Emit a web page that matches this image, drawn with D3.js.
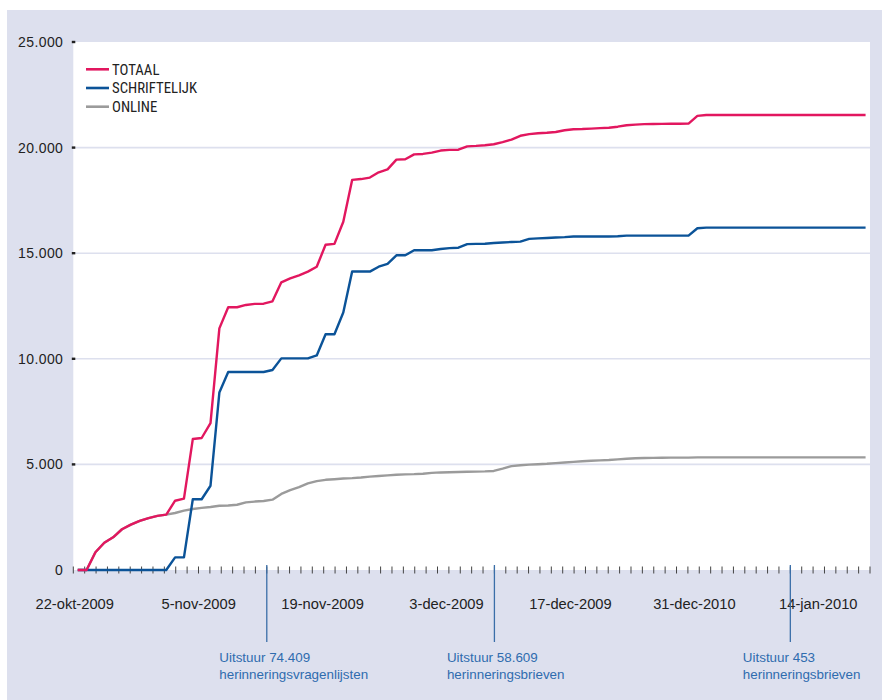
<!DOCTYPE html>
<html>
<head>
<meta charset="utf-8">
<script src="https://cdn.jsdelivr.net/npm/d3@7"></script>
<style>
  body { margin: 0; background: #fff; }
</style>
</head>
<body>
<svg width="882" height="700"></svg>
<script>
// cumulatief aantal responses per dag, vanaf 22-okt-2009
const startDate = "2009-10-22";

const totaal = [
  0, 0, 840, 1290, 1550, 1930, 2150, 2330, 2460, 2560,
  2620, 3280, 3380, 6200, 6250, 6950, 11440, 12440, 12440, 12550,
  12600, 12610, 12720, 13620, 13810, 13950, 14130, 14360, 15400, 15440,
  16490, 18470, 18510, 18580, 18830, 18970, 19430, 19450, 19680, 19700,
  19760, 19860, 19890, 19900, 20060, 20080, 20110, 20160, 20260, 20380,
  20560, 20640, 20680, 20700, 20740, 20820, 20870, 20880, 20900, 20920,
  20940, 20990, 21060, 21090, 21110, 21120, 21125, 21130, 21130, 21135,
  21500, 21545, 21545, 21545, 21545, 21545, 21545, 21545, 21545, 21545,
  21545, 21545, 21545, 21545, 21545, 21545, 21545, 21545, 21545, 21545
];

const schriftelijk = [
  0, 0, 0, 0, 0, 0, 0, 0, 0, 0,
  0, 600, 600, 3350, 3350, 3990, 8400, 9375, 9375, 9375,
  9375, 9375, 9470, 10020, 10020, 10020, 10020, 10160, 11160, 11160,
  12190, 14130, 14130, 14130, 14360, 14490, 14900, 14900, 15140, 15140,
  15140, 15200, 15240, 15260, 15430, 15440, 15450, 15480, 15510, 15530,
  15550, 15680, 15700, 15720, 15740, 15760, 15790, 15790, 15790, 15790,
  15790, 15800, 15830, 15830, 15830, 15830, 15830, 15830, 15830, 15830,
  16180, 16210, 16210, 16210, 16210, 16210, 16210, 16210, 16210, 16210,
  16210, 16210, 16210, 16210, 16210, 16210, 16210, 16210, 16210, 16210
];

const online = [
  0, 0, 840, 1290, 1550, 1930, 2150, 2330, 2460, 2560,
  2620, 2700, 2810, 2890, 2940, 2980, 3040, 3055, 3090, 3200,
  3240, 3270, 3330, 3600, 3780, 3920, 4100, 4210, 4270, 4300,
  4330, 4350, 4380, 4420, 4450, 4480, 4510, 4530, 4540, 4560,
  4600, 4620, 4630, 4640, 4650, 4660, 4670, 4690, 4800, 4920,
  4960, 4990, 5010, 5030, 5060, 5090, 5120, 5150, 5170, 5190,
  5210, 5240, 5270, 5290, 5300, 5310, 5315, 5320, 5320, 5320,
  5335, 5335, 5335, 5335, 5335, 5335, 5335, 5335, 5335, 5335,
  5335, 5335, 5335, 5335, 5335, 5335, 5335, 5335, 5335, 5335
];

const seriesNames = ["TOTAAL", "SCHRIFTELIJK", "ONLINE"];
const yTicks = [0, 5000, 10000, 15000, 20000, 25000];
const xLabelDates = ["2009-10-22", "2009-11-05", "2009-11-19", "2009-12-03", "2009-12-17", "2009-12-31", "2010-01-14"];
const xLabels = ["22-okt-2009", "5-nov-2009", "19-nov-2009", "3-dec-2009", "17-dec-2009", "31-dec-2010", "14-jan-2010"];
const tickCount = 70; // streepjes langs de x-as
const annotTicks = [17, 37, 63];
const annotLabels = [
  ["Uitstuur 74.409", "herinneringsvragenlijsten"],
  ["Uitstuur 58.609", "herinneringsbrieven"],
  ["Uitstuur 453", "herinneringsbrieven"]
];

const colors = {TOTAAL: "#e2175f", SCHRIFTELIJK: "#0b5398", ONLINE: "#9b9b9b"};
const sans = "'Liberation Sans', Arial, sans-serif";

const svg = d3.select("svg");
const pLeft = 73.3, pRight = 870, pTop = 42, pBottom = 570;

const start = new Date(startDate + "T00:00:00Z");
const dates = totaal.map((d, i) => d3.utcDay.offset(start, i));

// datum-as, punten midden in een dag-vak (zoals excel)
const x = d3.scaleUtc()
  .domain([d3.utcHour.offset(dates[0], -12), d3.utcHour.offset(dates[dates.length - 1], 12)])
  .range([pLeft, pRight]);
const y = d3.scaleLinear().domain([0, 25000]).range([pBottom, pTop]);
const tickX = d3.scaleLinear().domain([0, tickCount]).range([pLeft, pRight]);

const nl = d3.formatLocale({decimal: ",", thousands: ".", grouping: [3], currency: ["", ""]});
const fmt = nl.format(",d");

// achtergrond
svg.append("rect").attr("x", 7).attr("y", 10).attr("width", 875).attr("height", 690).attr("fill", "#dde0ee");
svg.append("rect").attr("x", pLeft).attr("y", pTop).attr("width", pRight - pLeft).attr("height", pBottom - pTop).attr("fill", "#fff");

// rasterlijnen
svg.selectAll(".grid")
  .data(yTicks.filter(d => d > 0 && d < 25000))
  .enter().append("line")
  .attr("x1", pLeft).attr("x2", pRight)
  .attr("y1", d => y(d)).attr("y2", d => y(d))
  .attr("stroke", "#dde0ee").attr("stroke-width", 1.6);

// y-as
const yAxis = svg.append("g").attr("transform", `translate(${pLeft},0)`)
  .call(d3.axisLeft(y).tickValues(yTicks).tickFormat(fmt).tickSize(0).tickPadding(10));
yAxis.select(".domain").remove();
yAxis.attr("font-family", null).attr("font-size", null);
yAxis.selectAll("text").attr("font-size", 14).attr("fill", "#222").attr("letter-spacing", "0.4px")
  .attr("font-family", sans);
svg.selectAll(".ytick")
  .data(yTicks.filter(d => d > 0))
  .enter().append("rect")
  .attr("x", pLeft - 1.5).attr("y", d => y(d) - 1.2)
  .attr("width", 3.5).attr("height", 2.4).attr("fill", "#222");

// x-as streepjes
svg.selectAll(".xtick")
  .data(d3.range(tickCount + 1))
  .enter().append("line")
  .attr("x1", d => tickX(d)).attr("x2", d => tickX(d))
  .attr("y1", pBottom - 3.5).attr("y2", pBottom + 3.5)
  .attr("stroke", "#444").attr("stroke-width", 1);

svg.selectAll(".xlabel")
  .data(xLabels)
  .enter().append("text")
  .attr("x", (d, i) => x(new Date(xLabelDates[i] + "T00:00:00Z")) - 3)
  .attr("y", 609)
  .attr("text-anchor", "middle")
  .attr("font-size", 14.7)
  .attr("font-family", sans)
  .attr("fill", "#222")
  .text(d => d);

// annotaties
const ann = svg.selectAll(".annot")
  .data(annotTicks)
  .enter().append("g");
ann.append("line")
  .attr("x1", d => tickX(d)).attr("x2", d => tickX(d))
  .attr("y1", pBottom - 5).attr("y2", 642)
  .attr("stroke", "#3a6ea8").attr("stroke-width", 1.3);
ann.each(function(d, i) {
  const t = d3.select(this).append("text")
    .attr("font-size", 13.4)
    .attr("font-family", sans)
    .attr("fill", "#2f6cae");
  annotLabels[i].forEach((s, k) => {
    t.append("tspan").attr("x", tickX(d) - 47.5).attr("y", 662 + k * 17).text(s);
  });
});

// lijnen
const line = d3.line().x((d, i) => x(dates[i])).y(d => y(d));
const seriesData = {TOTAAL: totaal, SCHRIFTELIJK: schriftelijk, ONLINE: online};
["ONLINE", "SCHRIFTELIJK", "TOTAAL"].forEach(name => {
  svg.append("path")
    .datum(seriesData[name])
    .attr("d", line)
    .attr("fill", "none")
    .attr("stroke", colors[name])
    .attr("stroke-width", 2.4)
    .attr("stroke-linejoin", "round");
});

// legenda
const leg = svg.selectAll(".legend")
  .data(seriesNames)
  .enter().append("g")
  .attr("transform", (d, i) => `translate(86,${69.3 + i * 18.7})`);
leg.append("line").attr("x1", 0).attr("x2", 23).attr("stroke", d => colors[d]).attr("stroke-width", 2.6);
leg.append("text").attr("x", 26).attr("dy", "0.36em")
  .attr("font-size", 14.8).attr("font-family", "'Roboto Condensed', 'Liberation Sans', sans-serif")
  .attr("fill", "#222").text(d => d);
</script>
</body>
</html>
